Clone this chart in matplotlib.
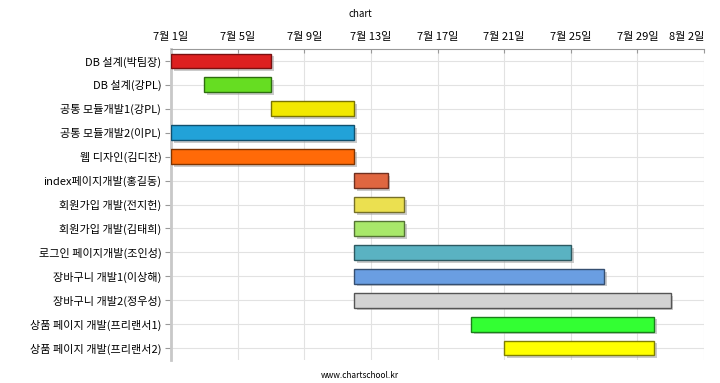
import datetime as dt
import matplotlib
matplotlib.use("Agg")
import matplotlib.pyplot as plt
import matplotlib.dates as mdates
import matplotlib.patheffects as pe

plt.rcParams['font.family'] = ['Noto Sans CJK KR', 'DejaVu Sans']

tasks = ["DB 설계(박팀장)", "DB 설계(강PL)", "공통 모듈개발1(강PL)", "공통 모듈개발2(이PL)",
         "웹 디자인(김디잔)", "index페이지개발(홍길동)", "회원가입 개발(전지헌)", "회원가입 개발(김태희)",
         "로그인 페이지개발(조인성)", "장바구니 개발1(이상해)", "장바구니 개발2(정우성)",
         "상품 페이지 개발(프리랜서1)", "상품 페이지 개발(프리랜서2)"]
starts = ["2015-07-01", "2015-07-03", "2015-07-07", "2015-07-01", "2015-07-01", "2015-07-12",
          "2015-07-12", "2015-07-12", "2015-07-12", "2015-07-12", "2015-07-12", "2015-07-19",
          "2015-07-21"]
ends = ["2015-07-07", "2015-07-07", "2015-07-12", "2015-07-12", "2015-07-12", "2015-07-14",
        "2015-07-15", "2015-07-15", "2015-07-25", "2015-07-27", "2015-07-31", "2015-07-30",
        "2015-07-30"]
colors = ["#dd2020", "#66dd22", "#f2e800", "#22a2d8", "#ff6a08", "#e06640", "#ebe050",
          "#a8e86a", "#5ab2c2", "#6a9ee2", "#d3d3d3", "#33ff33", "#ffff00"]
edges = ["#7a1010", "#2e6e10", "#7a7400", "#10506e", "#803400", "#703020", "#767028",
         "#547434", "#2d5961", "#354f71", "#555555", "#1a801a", "#808000"]

fig = plt.figure(figsize=(7.2, 3.83), dpi=100)
ax = fig.add_axes([171/720, 23/383, 533/720, 311/383])

s = [mdates.date2num(dt.date.fromisoformat(d)) for d in starts]
e = [mdates.date2num(dt.date.fromisoformat(d)) for d in ends]
for i in range(len(tasks)):
    ax.barh(i, e[i] - s[i], left=s[i], height=0.62, color=colors[i], edgecolor=edges[i],
            linewidth=1, zorder=3,
            path_effects=[pe.SimplePatchShadow(offset=(2, -2), shadow_rgbFace='#999999', alpha=0.5),
                          pe.Normal()])

ax.set_ylim(len(tasks) - 0.5, -0.5)
ax.set_yticks(range(len(tasks)))
ax.set_yticklabels(tasks, fontsize=8)
x0 = mdates.date2num(dt.date(2015, 7, 1))
ax.set_xlim(x0, mdates.date2num(dt.date(2015, 8, 2)))
ax.set_xticks([x0 + 4 * k for k in range(9)])
ax.xaxis.set_major_formatter(mdates.DateFormatter('%-m월 %-d일'))
ax.xaxis.tick_top()
ax.tick_params(axis='x', labelsize=8, length=3, direction='in', color='#999999', pad=5)
ax.tick_params(axis='y', length=4, color='#999999', pad=3)
fig.canvas.draw()
ax.get_xticklabels()[-1].set_horizontalalignment('right')

ax.grid(True, color='#e2e2e2', linewidth=0.8, zorder=0)
ax.set_axisbelow(True)
for side in ['right', 'bottom']:
    ax.spines[side].set_visible(False)
ax.spines['top'].set_color('#999999')
ax.spines['left'].set_color('#c8c8c8')
ax.spines['left'].set_linewidth(2)

fig.text(0.5, 1 - 14/383, "chart", ha='center', va='center', fontsize=7)
fig.text(0.5, 1 - 376/383, "www.chartschool.kr", ha='center', va='center', fontsize=6)

fig.savefig("out.png", dpi=100)
